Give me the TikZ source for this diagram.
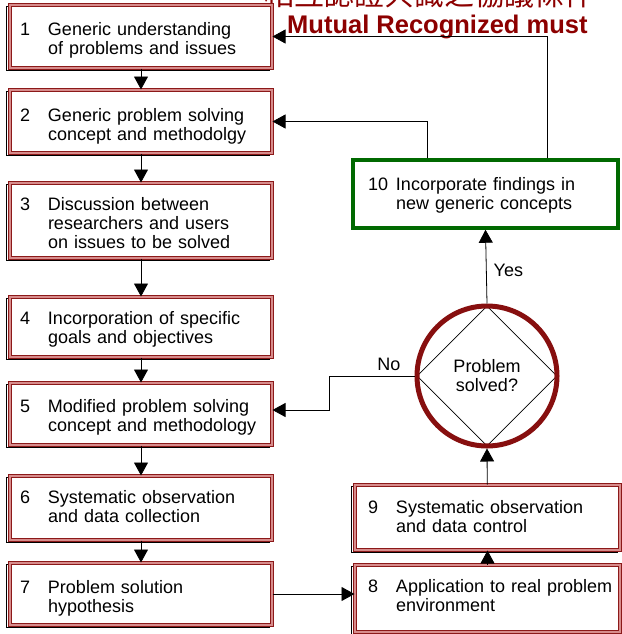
\documentclass[tikz,border=0pt]{standalone}
\usepackage{fontspec}
\setmainfont{Liberation Sans}
\newfontfamily\cjk{Noto Sans CJK TC}
\usetikzlibrary{arrows.meta,shapes.geometric,backgrounds}
\definecolor{boxred}{RGB}{140,25,25}
\definecolor{boxpink}{RGB}{215,140,140}
\definecolor{ringred}{RGB}{135,15,15}
\definecolor{titlered}{RGB}{140,0,0}
\definecolor{boxgreen}{RGB}{0,105,0}
\newcommand{\stepno}[3][13pt]{\rule{0pt}{#1}\makebox[28pt][l]{#2}\begin{tabular}[t]{@{}l@{}}#3\end{tabular}}
\tikzset{
  stepbox/.style={draw=boxred, double=boxpink, double distance=1.2pt, line width=1pt,
    fill=white, inner xsep=10pt, inner ysep=0pt, text width=242pt, align=left,
    font=\fontsize{18}{19}\selectfont},
  stepboxr/.style={stepbox, inner xsep=13pt, text width=239pt},
  greenbox/.style={draw=boxgreen, line width=3.5pt, fill=white, inner xsep=15pt,
    inner ysep=0pt, text width=235pt, align=left, font=\fontsize{18}{19}\selectfont},
  shadowline/.style={draw=black, line width=0.6pt},
  decide/.style={diamond, draw, line width=0.8pt, minimum width=140pt, minimum height=140pt,
    inner sep=0pt, align=center, font=\fontsize{18}{19}\selectfont},
  ring/.style={circle, draw=ringred, line width=5pt, minimum size=140pt, inner sep=0pt},
  flow/.style={draw, line width=0.8pt, -{Triangle[length=13pt,width=14pt]}},
  lbl/.style={font=\fontsize{18}{19}\selectfont, inner sep=1pt}
}
\begin{document}
\begin{tikzpicture}[x=1pt,y=-1pt]
\useasboundingbox (0,0) rectangle (621,634);
% heading, cut at the top
\node[anchor=base west, text=titlered, inner sep=0pt, font=\cjk\fontsize{30}{30}\selectfont] (cjkline) at (264,6) {相互認證共識之協議條件};
\node[anchor=base west, text=titlered, inner sep=0pt, font=\bfseries\fontsize{25.5}{26}\selectfont] (title) at (287,34) {Mutual Recognized must};
% left column
\node[stepbox, minimum height=63pt] (b1) at (141,36.5) {\stepno[23pt]{1}{Generic understanding\\of problems and issues}};
\node[stepbox, minimum height=63pt] (b2) at (141,121.5) {\stepno[25pt]{2}{Generic problem solving\\concept and methodolgy}};
\node[stepbox, minimum height=75pt] (b3) at (141,220.5) {\stepno[24pt]{3}{Discussion between\\researchers and users\\on issues to be solved}};
\node[stepbox, minimum height=60pt] (b4) at (141,327) {\stepno[19pt]{4}{Incorporation of specific\\goals and objectives}};
\node[stepbox, minimum height=62pt] (b5) at (141,414) {\stepno[22pt]{5}{Modified problem solving\\concept and methodology}};
\node[stepbox, minimum height=64pt] (b6) at (141,508) {\stepno[16pt]{6}{Systematic observation\\and data collection}};
\node[stepbox, minimum height=62pt] (b7) at (141,594) {\stepno[23pt]{7}{Problem solution\\hypothesis}};
% right column
\node[stepboxr, minimum height=67pt] (b8) at (487.5,598.5) {\stepno{8}{Application to real problem\\environment}};
\node[stepboxr, minimum height=65pt] (b9) at (487.5,517.5) {\stepno[16pt]{9}{Systematic observation\\and data control}};
\node[decide] (dec) at (487,376) {Problem\\solved?};
\node[ring] (ring) at (dec.center) {};
\node[greenbox, minimum height=68pt] (b10) at (485.5,194) {\stepno[17pt]{10}{Incorporate findings in\\new generic concepts}};
% offset black frames
\begin{scope}[on background layer]
\foreach \n in {b1,b2,b3,b4,b5,b6,b7,b8,b9}
  \draw[shadowline] ([shift={(-3,2)}]\n.north west) rectangle ([shift={(-3,2)}]\n.south east);
\end{scope}
% connectors
\draw[flow] (b1) -- (b2);
\draw[flow] (b2) -- (b3);
\draw[flow] (b3) -- (b4);
\draw[flow] (b4) -- (b5);
\draw[flow] (b5) -- (b6);
\draw[flow] (b6) -- (b7);
\draw[flow] (b7.east) -- (b7.east -| b8.west);
\draw[flow] (b8) -- (b9);
\draw[flow] (b9) -- (ring.south);
\draw[flow] (ring.north) -- node[lbl, right=6pt, pos=0.45] {Yes} (b10.south);
\coordinate (nobend) at (329,376);
\draw[flow] (ring.west) -- node[lbl, above=4pt, pos=0.3] {No} (nobend) |- ([yshift=4pt]b5.east);
\draw[flow] ([xshift=-58pt]b10.north) |- (b2.east);
\draw[flow] ([xshift=62pt]b10.north) |- (b1.east);
\end{tikzpicture}
\end{document}
